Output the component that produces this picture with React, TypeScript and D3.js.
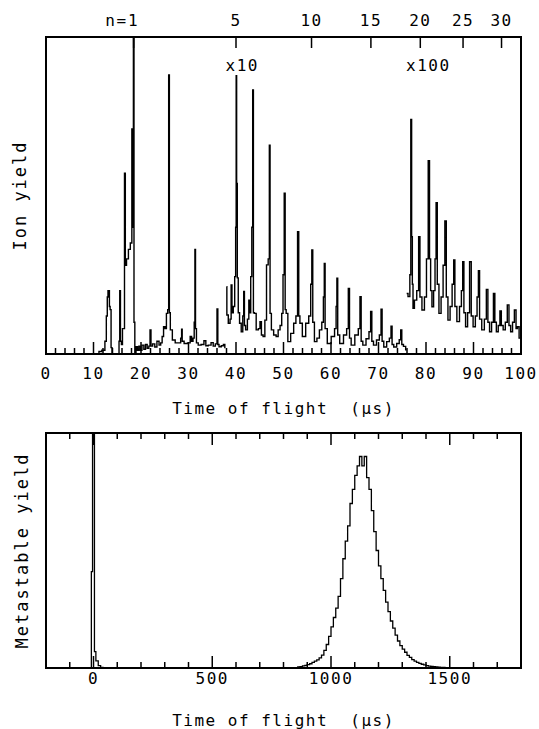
import React from 'react';
import * as d3 from 'd3';

const W = 539;
const H = 729;
const FONT = '"DejaVu Sans Mono", monospace';

// ---- top panel: ion yield vs time of flight (µs) ----
const tofMajor = [0, 10, 20, 30, 40, 50, 60, 70, 80, 90, 100];
const nLabels = ['1', '5', '10', '15', '20', '25', '30'];
const nTimes = [18.45, 40.0, 55.9, 68.4, 78.8, 87.8, 95.9];
const gainLabels = ['x10', 'x100'];
const gainStarts = [37.8, 75.8];

// [time, yield], unscaled part
const rawTrace = [
  [0, 0], [11.0, 0], [11.3, 0.8], [12.2, 1.2], [12.6, 4], [12.8, 12], [13.0, 18], [13.1, 20], [13.3, 20],
  [13.4, 15], [13.6, 14], [13.8, 2], [14.0, 0], [15.3, 0], [15.45, 4], [15.6, 20], [15.75, 4], [16.0, 3],
  [16.2, 8], [16.45, 8], [16.6, 57], [16.8, 28], [17.1, 30], [17.6, 33], [17.9, 35], [18.05, 35], [18.1, 71],
  [18.2, 40], [18.35, 40], [18.45, 100], [18.6, 10], [18.8, 0.5], [19.1, 2.3], [19.4, 1.2], [19.7, 2.5],
  [20.0, 1.2], [20.4, 2.8], [20.8, 1.5], [21.1, 3], [21.5, 1.8], [21.8, 2.5], [22.0, 7.6], [22.2, 2.5],
  [22.7, 3.2], [23.1, 2.2], [23.6, 4], [24.0, 2.8], [24.3, 3.5], [24.6, 5.5], [24.9, 8.6], [25.2, 8],
  [25.5, 12.8], [25.75, 14], [25.9, 88], [26.05, 13], [26.3, 7.6], [26.9, 4.4], [27.5, 3.5], [28.2, 3.5],
  [28.5, 5], [28.6, 7.8], [28.75, 4], [29.4, 3.3], [30.2, 3.5], [30.5, 5.5], [30.8, 4], [31.1, 5], [31.3, 10],
  [31.4, 33], [31.55, 8], [31.8, 3.5], [32.3, 2.8], [33.0, 3], [33.5, 4.2], [33.8, 2.6], [34.5, 2.8],
  [35.0, 3.6], [35.4, 2.5], [35.9, 3.2], [36.1, 14.2], [36.25, 3], [36.6, 2.3], [37.2, 2.6], [37.5, 3], [37.8, 2],
];

// x10 part
const x10Trace = [
  [38.0, 21.2], [38.15, 12.3], [38.6, 9.7], [38.9, 11], [39.05, 21.8], [39.25, 13], [39.6, 15], [39.85, 24.4],
  [40.0, 40], [40.07, 87.8], [40.2, 53.8], [40.35, 24], [40.6, 13], [40.9, 9.7], [41.3, 7], [41.55, 12],
  [41.7, 19.7], [41.85, 9], [42.2, 7.6], [42.6, 11], [42.8, 17], [43.0, 13], [43.2, 24.4], [43.45, 40],
  [43.58, 83.3], [43.75, 13], [44.0, 12.8], [44.5, 7.6], [44.9, 8], [45.2, 10.2], [45.5, 6], [45.9, 5.5],
  [46.25, 10.7], [46.6, 28.1], [46.95, 30], [47.09, 65.9], [47.25, 12.8], [47.65, 7.6], [48.2, 6], [48.7, 5.5],
  [49.05, 7.6], [49.5, 9], [49.75, 12.8], [50.05, 25], [50.25, 50.7], [50.45, 14], [50.67, 12.8], [51.16, 3.9],
  [51.86, 6.5], [52.42, 9.7], [52.8, 12], [53.12, 38.6], [53.3, 12], [53.61, 9.7], [54.32, 5.5], [55.02, 9.7],
  [55.6, 12], [55.85, 22], [56.07, 32.8], [56.25, 10], [56.77, 3.9], [57.3, 5], [57.82, 7.6], [58.3, 10],
  [58.5, 18], [58.67, 28.6], [58.85, 8], [59.58, 3.3], [60.5, 5.5], [61.0, 8], [61.15, 15], [61.33, 23.9],
  [61.5, 6], [62.17, 3.3], [63.09, 6], [63.5, 8], [63.79, 20.7], [64.0, 5], [64.49, 2.8], [65.54, 6],
  [65.95, 8], [66.25, 18.1], [66.45, 4], [66.95, 2.8], [67.79, 4.8], [68.2, 7], [68.49, 13.4], [68.7, 4],
  [69.19, 2.8], [69.96, 4.4], [70.4, 6], [70.67, 14.1], [70.85, 4], [71.37, 2.2], [72.07, 3.9], [72.5, 5],
  [72.77, 8.8], [72.95, 3], [73.47, 2.2], [74.18, 3.3], [74.55, 4.5], [74.81, 7.6], [75.0, 3], [75.51, 2.4],
  [75.93, 1.3],
];

// x100 part
const x100Trace = [
  [75.93, 19.1], [76.5, 18.1], [76.7, 25], [76.9, 74], [77.05, 37], [77.2, 22], [77.33, 14.4], [77.8, 17],
  [78.3, 20], [78.6, 37], [78.85, 18], [79.44, 13.9], [79.9, 18], [80.3, 30], [80.63, 61], [80.85, 30],
  [81.1, 20], [81.4, 14.9], [81.8, 20], [82.0, 30], [82.25, 47.7], [82.5, 22], [82.95, 12.8], [83.4, 18],
  [83.8, 28], [84.14, 42], [84.4, 18], [84.84, 10.7], [85.3, 15], [85.7, 22], [85.96, 29.7], [86.2, 15],
  [86.8, 10.2], [87.3, 15], [87.6, 20], [87.86, 29.1], [88.1, 13], [88.56, 8.6], [88.95, 13], [89.4, 29.1],
  [89.65, 12], [90.18, 8.6], [90.6, 12], [90.9, 18], [91.16, 26.3], [91.4, 11], [92.07, 7.6], [92.5, 11],
  [92.91, 20.4], [93.15, 10], [93.61, 7.0], [94.0, 10], [94.39, 19.1], [94.6, 10], [95.02, 7.0], [95.4, 9],
  [95.72, 13.6], [96.0, 9], [96.49, 7.6], [96.9, 10], [97.33, 15.5], [97.6, 9], [98.04, 7.0], [98.4, 10],
  [98.81, 13.9], [99.1, 8], [99.4, 8.6], [99.8, 5],
];

// ---- bottom panel: metastable yield vs time of flight (µs) ----
const metaMajor = [0, 500, 1000, 1500];
const promptTimes = [-9, -4, 0, 4, 10, 20, 30];
const promptCounts = [41, 100, 100, 7, 3, 1, 0.3];
const promptEnd = 40;
const delayedStart = 860;
const binWidth = 10;
const delayedCounts = [
  0.5, 0.6, 0.9, 1.1, 1.4, 1.8, 2.4, 2.9, 3.5, 4.3, 5.5, 7.5, 10, 13.5, 17.5, 21.5, 25.5, 30.5, 38, 46.5,
  54, 60.5, 70, 76, 82, 86, 90, 86, 90, 81, 76, 67, 58, 50, 43.5, 38, 33, 28, 24, 20, 17, 14, 11.5, 9.5, 8,
  6.7, 5.4, 4.5, 3.6, 2.9, 2.4, 2.0, 1.6, 1.3, 1.0, 0.8, 0.7, 0.6, 0.5, 0.4, 0.3, 0.3, 0.2, 0.2, 0.1,
];

const txt = { fontFamily: FONT, fontSize: 16, letterSpacing: 1.5, fill: '#000' } as const;

export default function App() {
  // top panel
  const xT = d3.scaleLinear().domain([0, 100]).range([46, 521]);
  const yT = d3.scaleLinear().domain([0, 100]).range([354, 37]);
  const lineT = d3.line<number[]>().x(d => xT(d[0])).y(d => yT(d[1])).curve(d3.curveStep);
  const minorT = d3.range(2, 100, 2).filter(v => v % 10 !== 0);

  // bottom panel
  const xB = d3.scaleLinear().domain([-200, 1800]).range([46, 521]);
  const yB = d3.scaleLinear().domain([0, 100]).range([668, 433]);
  const minorB = d3.range(-100, 1800, 100).filter(v => v % 500 !== 0);
  const histPts: number[][] = [[-200, 0]];
  promptTimes.forEach((t, i) => histPts.push([t, promptCounts[i]]));
  histPts.push([promptEnd, 0]);
  delayedCounts.forEach((c, i) => histPts.push([delayedStart + i * binWidth, c]));
  histPts.push([delayedStart + delayedCounts.length * binWidth, 0]);
  histPts.push([1800, 0]);
  const lineB = d3.line<number[]>().x(d => xB(d[0])).y(d => yB(d[1])).curve(d3.curveStepAfter);

  const [tx0, tx1] = xT.range();
  const [ty0, ty1] = yT.range();
  const [bx0, bx1] = xB.range();
  const [by0, by1] = yB.range();

  return (
    <svg width={W} height={H} style={{ position: 'absolute', left: 0, top: 0, background: '#fff' }}>
      <defs>
        <clipPath id="clipTop"><rect x={tx0} y={ty1} width={tx1 - tx0} height={ty0 - ty1} /></clipPath>
        <clipPath id="clipBot"><rect x={bx0} y={by1} width={bx1 - bx0} height={by0 - by1} /></clipPath>
      </defs>

      {/* ---- top panel ---- */}
      <g clipPath="url(#clipTop)" fill="none" stroke="#000" strokeWidth={1.4}>
        <path d={lineT(rawTrace) || ''} />
        <path d={lineT(x10Trace) || ''} />
        <path d={lineT(x100Trace) || ''} />
      </g>
      <rect x={tx0} y={ty1} width={tx1 - tx0} height={ty0 - ty1} fill="none" stroke="#000" strokeWidth={2} />
      <g stroke="#000" strokeWidth={1.5}>
        {tofMajor.slice(1, -1).map(v => (
          <line key={'M' + v} x1={xT(v)} x2={xT(v)} y1={ty0} y2={ty0 - 12} />
        ))}
        {minorT.map(v => (
          <line key={'m' + v} x1={xT(v)} x2={xT(v)} y1={ty0} y2={ty0 - 6} />
        ))}
        {nTimes.map(t => (
          <line key={'n' + t} x1={xT(t)} x2={xT(t)} y1={ty1} y2={ty1 + 11} />
        ))}
      </g>
      {tofMajor.map(v => (
        <text key={'tl' + v} x={xT(v)} y={378.5} textAnchor="middle" style={txt}>{v}</text>
      ))}
      {nLabels.map((n, i) => (
        <text key={'nl' + n} x={xT(nTimes[i])} y={26} textAnchor="middle" style={txt}>{n}</text>
      ))}
      <text x={xT(nTimes[0]) - 6} y={26} textAnchor="end" style={txt}>n=</text>
      {gainLabels.map((g, i) => (
        <text key={g} x={xT(gainStarts[i])} y={70.5} textAnchor="start" style={txt}>{g}</text>
      ))}
      <text x={(tx0 + tx1) / 2} y={413.5} textAnchor="middle" style={txt} xmlSpace="preserve">Time of flight  (µs)</text>
      <text transform={`translate(26,${(ty0 + ty1) / 2}) rotate(-90)`} textAnchor="middle"
        style={{ ...txt, fontSize: 17, letterSpacing: 2 }}>Ion yield</text>

      {/* ---- bottom panel ---- */}
      <g clipPath="url(#clipBot)" fill="none" stroke="#000" strokeWidth={1.3}>
        <path d={lineB(histPts) || ''} />
      </g>
      <rect x={bx0} y={by1} width={bx1 - bx0} height={by0 - by1} fill="none" stroke="#000" strokeWidth={2} />
      <g stroke="#000" strokeWidth={1.5}>
        {metaMajor.map(v => (
          <g key={'BM' + v}>
            <line x1={xB(v)} x2={xB(v)} y1={by0} y2={by0 - 12} />
            <line x1={xB(v)} x2={xB(v)} y1={by1} y2={by1 + 12} />
          </g>
        ))}
        {minorB.map(v => (
          <g key={'Bm' + v}>
            <line x1={xB(v)} x2={xB(v)} y1={by0} y2={by0 - 6} />
            <line x1={xB(v)} x2={xB(v)} y1={by1} y2={by1 + 6} />
          </g>
        ))}
      </g>
      {metaMajor.map(v => (
        <text key={'bl' + v} x={xB(v)} y={684} textAnchor="middle" style={txt}>{v}</text>
      ))}
      <text x={(bx0 + bx1) / 2} y={726} textAnchor="middle" style={txt} xmlSpace="preserve">Time of flight  (µs)</text>
      <text transform={`translate(28,${(by0 + by1) / 2}) rotate(-90)`} textAnchor="middle"
        style={{ ...txt, fontSize: 17, letterSpacing: 2 }}>Metastable yield</text>
    </svg>
  );
}
